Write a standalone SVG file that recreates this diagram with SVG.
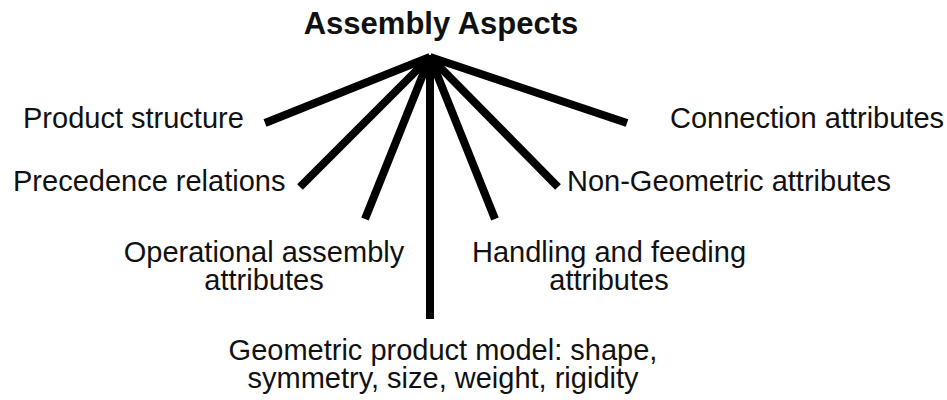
<svg xmlns="http://www.w3.org/2000/svg" width="947" height="400" viewBox="0 0 947 400">
  <style>
    .lbl { font-family: "Liberation Sans", Arial, sans-serif; font-size: 29px; fill: #111; }
    .title { font-family: "Liberation Sans", Arial, sans-serif; font-size: 31px; font-weight: bold; fill: #111; }
    .spoke { stroke: #000; stroke-width: 8; fill: none; stroke-linecap: butt; }
  </style>
  <rect width="947" height="400" fill="#fff"/>

  <g id="root">
    <text class="title" x="441" y="34" text-anchor="middle">Assembly Aspects</text>
  </g>

  <!-- spokes radiating from the hub under the title -->
  <g id="connectors">
    <line class="spoke" x1="430" y1="57" x2="265" y2="123"/>
    <line class="spoke" x1="430" y1="57" x2="300" y2="187"/>
    <line class="spoke" x1="430" y1="57" x2="365" y2="219"/>
    <line class="spoke" x1="430" y1="55" x2="430" y2="319"/>
    <line class="spoke" x1="430" y1="57" x2="495" y2="219"/>
    <line class="spoke" x1="430" y1="57" x2="558" y2="187"/>
    <line class="spoke" x1="430" y1="57" x2="627" y2="123"/>
  </g>

  <g id="product-structure">
    <text class="lbl" x="23" y="128">Product structure</text>
  </g>
  <g id="precedence-relations">
    <text class="lbl" x="13" y="191">Precedence relations</text>
  </g>
  <g id="operational-assembly">
    <text class="lbl" x="264" y="262" text-anchor="middle">Operational assembly</text>
    <text class="lbl" x="264" y="290" text-anchor="middle">attributes</text>
  </g>
  <g id="geometric-model">
    <text class="lbl" x="443" y="360" text-anchor="middle">Geometric product model: shape,</text>
    <text class="lbl" x="443" y="388" text-anchor="middle">symmetry, size, weight, rigidity</text>
  </g>
  <g id="handling-feeding">
    <text class="lbl" x="609" y="262" text-anchor="middle">Handling and feeding</text>
    <text class="lbl" x="609" y="290" text-anchor="middle">attributes</text>
  </g>
  <g id="non-geometric">
    <text class="lbl" x="567" y="191">Non-Geometric attributes</text>
  </g>
  <g id="connection-attributes">
    <text class="lbl" x="670" y="128">Connection attributes</text>
  </g>
</svg>
